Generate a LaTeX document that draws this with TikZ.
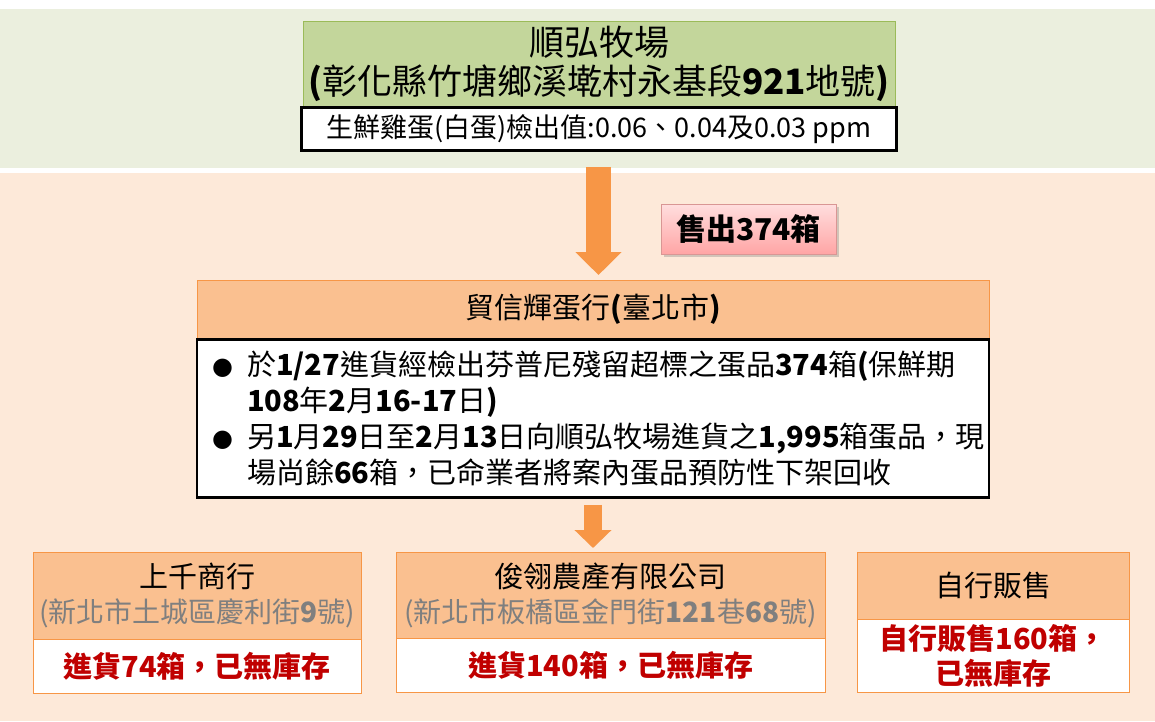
\documentclass[tikz,border=0pt]{standalone}
\usepackage{fontspec}
\setmainfont{Noto Sans CJK TC}
\newfontfamily\symfont{DejaVu Sans}
\usepackage{tikz}
\usetikzlibrary{arrows.meta,positioning,shadows}
\definecolor{bandgreen}{RGB}{235,239,222}
\definecolor{bandpeach}{RGB}{253,233,217}
\definecolor{farmgreen}{RGB}{195,214,155}
\definecolor{farmline}{RGB}{155,187,89}
\definecolor{orangefill}{RGB}{250,192,144}
\definecolor{orangeline}{RGB}{247,150,70}
\definecolor{redtext}{RGB}{192,0,0}
\definecolor{graytext}{RGB}{127,127,127}
\definecolor{tagtop}{RGB}{255,222,222}
\definecolor{tagbottom}{RGB}{255,165,165}
\definecolor{tagline}{RGB}{217,150,148}
\newcommand{\nb}[1]{\textbf{#1}}
\newcommand{\addr}[1]{{\color{graytext}\fontsize{28}{35}\selectfont #1}}
\newcommand{\bul}{\makebox[35pt][l]{\raisebox{1pt}{\symfont\fontsize{24}{24}\selectfont ●}}}
\tikzstyle{farmbox}=[rectangle, draw=farmline, fill=farmgreen, minimum width=592pt, minimum height=85pt, inner sep=0pt, align=center, font=\fontsize{35}{39}\selectfont]
\tikzstyle{assaybox}=[rectangle, draw=black, line width=2.5pt, fill=white, minimum width=595pt, minimum height=43pt, inner sep=0pt, font=\fontsize{27}{30}\selectfont]
\tikzstyle{header}=[rectangle, draw=orangeline, fill=orangefill, inner sep=0pt, align=center, font=\fontsize{29}{35}\selectfont]
\tikzstyle{listbox}=[rectangle, draw=black, line width=2.5pt, fill=white, minimum width=792pt, minimum height=158pt, text width=762pt, inner xsep=15pt, align=left, font=\fontsize{29}{36}\selectfont]
\tikzstyle{stock}=[rectangle, draw=orangeline, fill=white, inner sep=0pt, align=center, text=redtext, font=\fontsize{29}{35}\selectfont\bfseries]
\tikzstyle{tagbox}=[rectangle, draw=tagline, top color=tagtop, bottom color=tagbottom, minimum width=175pt, minimum height=50pt, inner sep=0pt, font=\fontsize{30}{34}\selectfont\bfseries, drop shadow={opacity=0.35, shadow xshift=3pt, shadow yshift=-3pt}]
\tikzstyle{bigarrow}=[draw=orangeline, line width=25pt, -{Triangle[width=45pt, length=23pt]}]
\tikzstyle{smallarrow}=[draw=orangeline, line width=18pt, -{Triangle[width=36pt, length=18pt]}]

\begin{document}
\begin{tikzpicture}[x=1pt, y=-1pt]
      %
      \useasboundingbox (0,0) rectangle (1155,721);
      \fill[bandgreen] (0,9) rectangle (1155,168);
      \fill[bandpeach] (0,173) rectangle (1155,721);
      %
      % Farm + test result
      %
      \path node[farmbox, anchor=north] (farm) at (599,21) {順弘牧場\\\nb{(}彰化縣竹塘鄉溪墘村永基段\nb{921}地號\nb{)}};
      \path node[assaybox, below=0pt of farm] (assay) {生鮮雞蛋(白蛋)檢出值:0.06、0.04及0.03 ppm};
      \coordinate (bandedge) at (598.5,167);
      %
      % Farm --> Egg shop
      %
      \path node[header, anchor=north, minimum width=792pt, minimum height=58pt] (shop) at (593,280) {貿信輝蛋行\nb{(}臺北市\nb{)}};
      \path node[listbox, below=0pt of shop] (shoplist) {\bul 於\nb{1/27}進貨經檢出芬普尼殘留超標之蛋品\nb{374}箱\nb{(}保鮮期\\
        \hspace*{35pt}\nb{108}年\nb{2}月\nb{16-17}日\nb{)}\\
        \bul 另\nb{1}月\nb{29}日至\nb{2}月\nb{13}日向順弘牧場進貨之\nb{1,995}箱蛋品，現\\
        \hspace*{35pt}場尚餘\nb{66}箱，已命業者將案內蛋品預防性下架回收};
      \path [bigarrow, shorten >=5pt] (bandedge) -- (bandedge |- shop.north);
      \path node[tagbox] (sold) at (748.5,229) {售出374箱};
      %
      % Egg shop --> Buyers
      %
      \path node[header, anchor=north, minimum width=328pt, minimum height=87pt] (dealer) at (197,552) {上千商行\\\addr{(新北市土城區慶利街\nb{9}號)}};
      \path node[stock, below=0pt of dealer, minimum width=328pt, minimum height=54pt] (dealerstock) {進貨74箱，已無庫存};
      \path node[header, anchor=north, minimum width=429pt, minimum height=86pt] (company) at (610.5,552) {俊翎農產有限公司\\\addr{(新北市板橋區金門街\nb{121}巷\nb{68}號)}};
      \path node[stock, below=0pt of company, minimum width=429pt, minimum height=54pt] (companystock) {進貨140箱，已無庫存};
      \path node[header, anchor=north, minimum width=272pt, minimum height=67pt] (selfsale) at (993,552) {自行販售};
      \path node[stock, below=0pt of selfsale, minimum width=272pt, minimum height=73pt] (selfstock) {自行販售160箱，\\已無庫存};
      \path [smallarrow, shorten <=6pt, shorten >=4pt] (shoplist.south) -- (shoplist.south |- company.north);
      %
\end{tikzpicture}
\end{document}
